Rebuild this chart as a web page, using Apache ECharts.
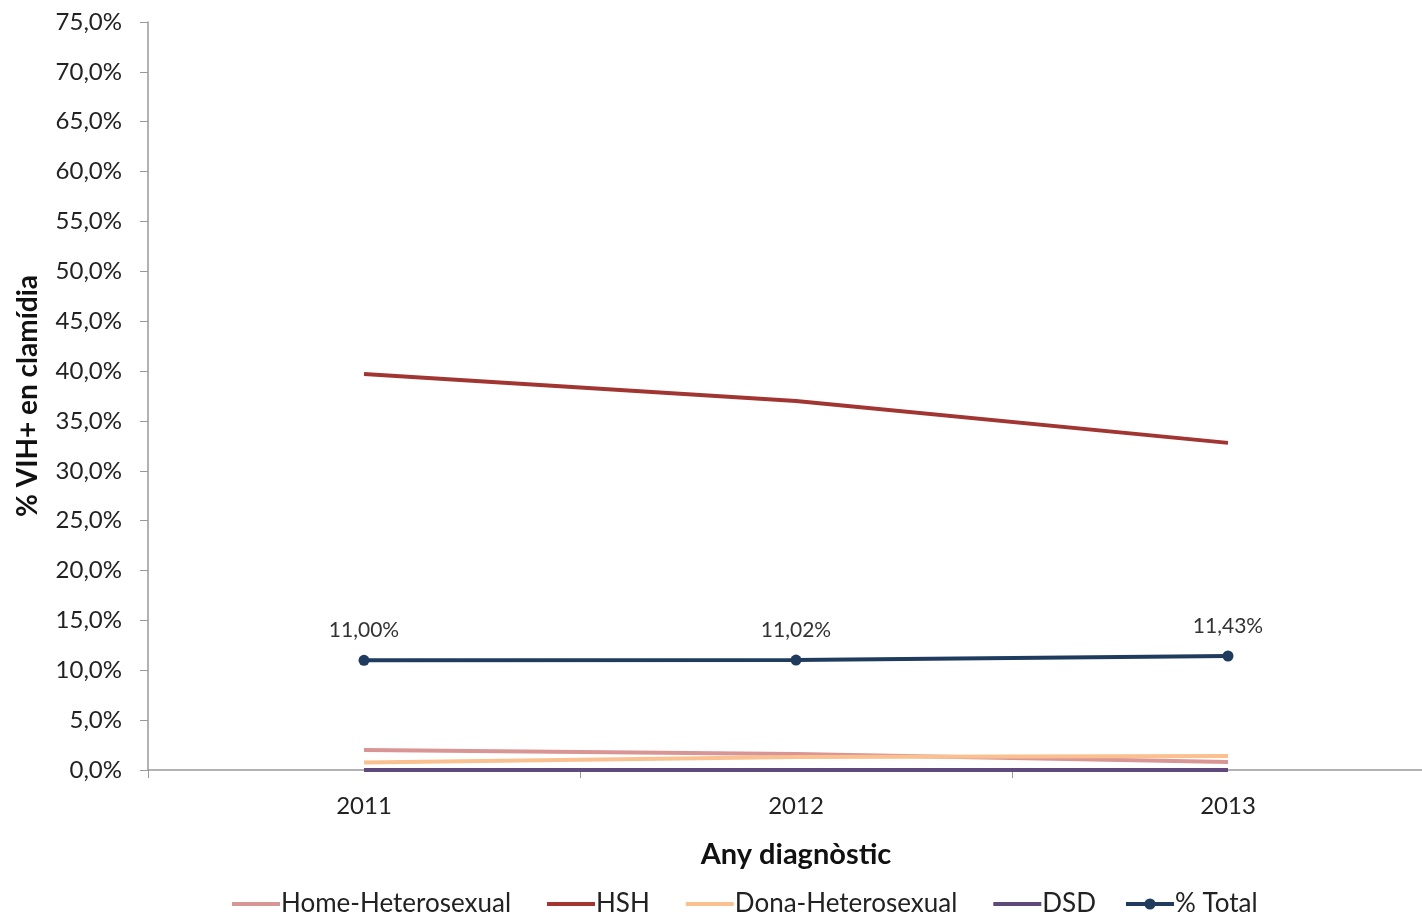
<!DOCTYPE html>
<html><head><meta charset="utf-8">
<script src="https://cdn.jsdelivr.net/npm/echarts@6/dist/echarts.min.js"></script>
<style>html,body{margin:0;padding:0;background:#fff;overflow:hidden}#c{width:1444px;height:915px}</style>
</head><body><div id="c"></div>
<script>
var categories = ['2011','2012','2013'];
var homeHet = [2.0, 1.6, 0.8];
var hsh = [39.7, 37.0, 32.8];
var donaHet = [0.75, 1.3, 1.4];
var dsd = [0.0, 0.0, 0.0];
var total = [11.00, 11.02, 11.43];
var yTicks = {min:0, max:75, interval:5};

var F = 'Lato, "Noto Sans", sans-serif';
function fmtPct(v, d){ return v.toFixed(d).replace('.', ',') + '%'; }
function line(name, data, color, extra){
  return Object.assign({name:name, type:'line', data:data, symbol:'none', smooth:false,
    lineStyle:{color:color, width:4}, itemStyle:{color:color}}, extra||{});
}
var legText = {fontFamily:F, fontSize:26, color:'#222', padding:[0,0,0,-4]};
var chart = echarts.init(document.getElementById('c'));
chart.setOption({
  backgroundColor:'#fff',
  animation:false,
  grid:{left:148, right:0, top:22, bottom:145, containLabel:false},
  xAxis:{type:'category', data:categories, boundaryGap:true,
    name:'Any diagnòstic', nameLocation:'middle', nameGap:70,
    nameTextStyle:{fontFamily:F, fontSize:29, fontWeight:'bold', color:'#111'},
    axisLine:{lineStyle:{color:'#999', width:1.5}},
    axisTick:{show:true, length:8, lineStyle:{color:'#999'}},
    axisLabel:{fontFamily:F, fontSize:24, color:'#222', margin:24},
    splitLine:{show:false}},
  yAxis:{type:'value', min:yTicks.min, max:yTicks.max, interval:yTicks.interval,
    name:'% VIH+ en clamídia', nameLocation:'middle', nameGap:106, nameRotate:90,
    nameTextStyle:{fontFamily:F, fontSize:28, fontWeight:'bold', color:'#111'},
    axisLine:{show:true, lineStyle:{color:'#999', width:1.5}},
    axisTick:{show:true, length:8, inside:false, lineStyle:{color:'#999'}},
    axisLabel:{fontFamily:F, fontSize:24, color:'#222', margin:26,
      formatter:function(v){return fmtPct(v,1);}},
    splitLine:{show:false}},
  legend:[
    {top:886, left:227, itemWidth:48, itemHeight:4, itemGap:36, icon:'rect',
      textStyle:legText, data:['Home-Heterosexual','HSH','Dona-Heterosexual','DSD']},
    {top:886, left:1119, itemWidth:48, itemHeight:14, itemGap:36,
      lineStyle:{width:4}, textStyle:legText, data:['% Total']}
  ],
  series:[
    line('Home-Heterosexual', homeHet, '#D99594'),
    line('HSH', hsh, '#A13532'),
    line('Dona-Heterosexual', donaHet, '#FAC090'),
    line('DSD', dsd, '#604A7B'),
    line('% Total', total, '#1F3C5E', {symbol:'circle', symbolSize:11,
      label:{show:true, position:'top', distance:14, fontFamily:F, fontSize:21, color:'#333',
        formatter:function(p){return fmtPct(p.value,2);}}})
  ]
});
</script></body></html>
